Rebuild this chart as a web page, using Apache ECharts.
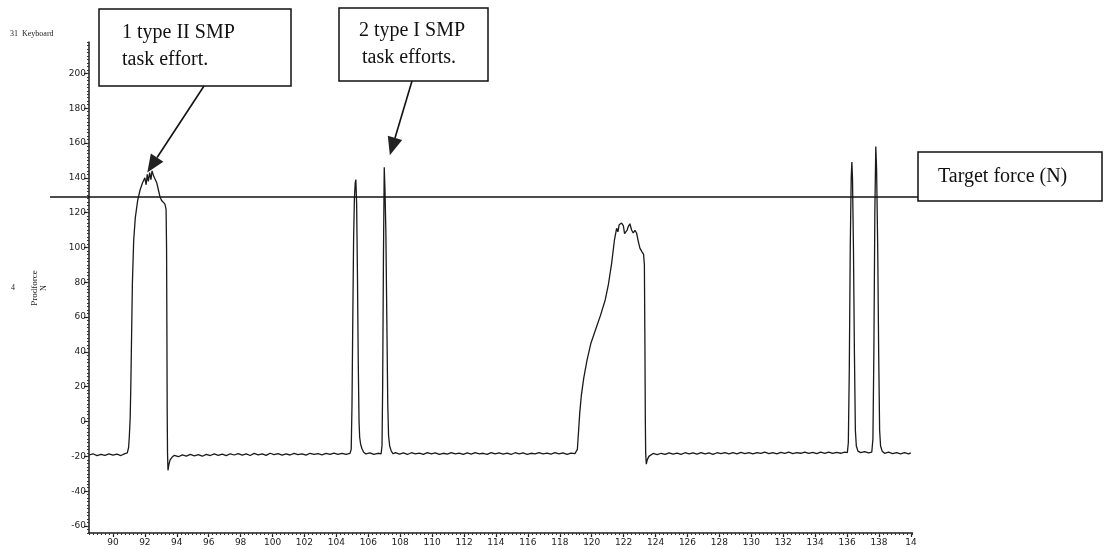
<!DOCTYPE html>
<html><head><meta charset="utf-8">
<script src="https://cdn.jsdelivr.net/npm/echarts@6/dist/echarts.min.js"></script>
<style>html,body{margin:0;padding:0;background:#fff}#c{width:1104px;height:549px}</style>
</head><body><div id="c"></div>
<script>
// time (s)
const timeS = [
88.50,88.75,89.00,89.25,89.50,89.75,90.00,90.25,90.50,90.75,90.90,
90.98,91.03,91.08,91.12,91.17,91.22,91.30,91.40,91.55,91.70,91.85,92.00,92.08,92.15,92.22,92.30,92.38,92.45,92.55,92.65,92.75,92.85,92.95,93.05,93.15,93.25,93.33,93.36,93.38,93.40,93.42,93.45,93.50,93.58,93.70,
93.85,94.10,94.35,94.60,94.85,95.10,95.35,95.60,95.85,96.10,96.35,96.60,96.85,97.10,97.35,97.60,97.85,98.10,98.35,98.60,98.85,99.10,99.35,99.60,99.85,100.10,100.35,100.60,100.85,101.10,101.35,101.60,101.85,102.10,102.35,102.60,102.85,103.10,103.35,103.60,103.85,104.10,104.35,104.60,104.85,
104.93,104.98,105.03,105.08,105.13,105.18,105.22,105.27,105.32,105.37,105.42,105.46,105.52,105.60,105.70,105.85,106.10,106.35,106.60,106.80,
106.86,106.90,106.95,107.00,107.04,107.10,107.16,107.22,107.27,107.34,107.44,107.56,
107.70,107.95,108.20,108.45,108.70,108.95,109.20,109.45,109.70,109.95,110.20,110.45,110.70,110.95,111.20,111.45,111.70,111.95,112.20,112.45,112.70,112.95,113.20,113.45,113.70,113.95,114.20,114.45,114.70,114.95,115.20,115.45,115.70,115.95,116.20,116.45,116.70,116.95,117.20,117.45,117.70,117.95,118.20,118.45,118.70,118.95,
119.10,119.18,119.25,119.35,119.50,119.70,119.95,120.25,120.55,120.85,121.05,121.25,121.42,121.56,121.64,121.72,121.80,121.87,121.98,122.06,122.14,122.22,122.29,122.39,122.50,122.60,122.71,122.81,122.92,123.02,123.15,123.25,123.30,123.33,123.36,123.38,123.42,123.48,123.58,123.70,
123.85,124.10,124.35,124.60,124.85,125.10,125.35,125.60,125.85,126.10,126.35,126.60,126.85,127.10,127.35,127.60,127.85,128.10,128.35,128.60,128.85,129.10,129.35,129.60,129.85,130.10,130.35,130.60,130.85,131.10,131.35,131.60,131.85,132.10,132.35,132.60,132.85,133.10,133.35,133.60,133.85,134.10,134.35,134.60,134.85,135.10,135.35,135.60,135.85,136.02,
136.08,136.14,136.20,136.26,136.30,136.34,136.40,136.46,136.52,136.58,136.68,136.85,137.10,137.35,137.55,
137.62,137.68,137.74,137.80,137.85,137.92,137.98,138.04,138.10,138.20,138.35,138.60,138.85,139.10,139.35,139.60,139.85,140.00
];
// Prodforce (N)
const forceN = [
-19.2,-18.5,-19.6,-18.8,-19.4,-18.6,-19.3,-18.7,-19.5,-18.4,-18.0,
-15,-8,2,20,50,80,104,117,127,133,137,140,136,142,138,143,139,144,141,141,137,133,129,127,126,125,122,100,55,5,-18,-28,-25,-22,-20.5,
-19.4,-20.2,-19.1,-19.8,-18.9,-19.7,-19.0,-19.9,-18.8,-19.5,-18.6,-19.4,-18.7,-19.6,-18.5,-19.2,-18.4,-19.3,-18.6,-19.5,-18.3,-19.1,-18.5,-19.4,-18.2,-19.0,-18.4,-19.3,-18.6,-19.2,-18.3,-19.0,-18.5,-19.3,-18.2,-18.9,-18.4,-19.1,-18.3,-18.9,-18.1,-18.8,-18.2,-18.9,-18.3,
-16,10,60,105,128,137,139,125,85,35,0,-9,-13,-15.5,-17.5,-18.6,-18.0,-18.9,-18.2,-18.6,
-14,20,95,146,135,110,60,10,-8,-14,-17,-18.5,
-17.8,-18.7,-18.0,-18.9,-17.9,-18.6,-18.1,-18.8,-17.8,-18.5,-18.0,-18.9,-18.2,-18.7,-17.9,-18.6,-18.1,-18.9,-18.0,-18.7,-17.9,-18.5,-18.2,-18.8,-17.8,-18.6,-18.0,-18.7,-18.1,-18.9,-17.9,-18.5,-18.0,-18.8,-18.2,-18.6,-17.8,-18.5,-18.1,-18.7,-17.9,-18.6,-18.0,-18.8,-18.1,-18.4,
-16,-5,5,15,25,35,45,53,61,70,79,91,104,111,109,113,112,114,112.5,108,107,110,112,113.6,110,108.3,109.8,108.3,103.4,99.6,97.5,96,90,50,0,-18,-24.5,-22,-20,-19,
-18.3,-19.0,-18.2,-18.9,-18.0,-18.7,-18.1,-18.8,-17.9,-18.6,-18.0,-18.7,-17.8,-18.5,-18.0,-18.8,-17.9,-18.4,-17.8,-18.6,-17.9,-18.5,-17.7,-18.4,-17.8,-18.6,-17.9,-18.3,-17.6,-18.4,-17.8,-18.5,-17.7,-18.3,-17.6,-18.4,-17.8,-18.2,-17.5,-18.3,-17.7,-18.4,-17.6,-18.2,-17.5,-18.3,-17.7,-18.2,-17.6,-17.8,
-12,30,100,140,149,140,100,40,-5,-14,-17,-17.8,-17.2,-18.0,-17.5,
-10,40,120,158,145,100,40,-5,-14,-17,-18.2,-17.6,-18.4,-17.8,-18.5,-17.9,-18.6,-18.0
];
const xTickValues = [90,92,94,96,98,100,102,104,106,108,110,112,114,116,118,120,122,124,126,128,130,132,134,136,138,140];
const xTickLabels = ['90','92','94','96','98','100','102','104','106','108','110','112','114','116','118','120','122','124','126','128','130','132','134','136','138','14'];
const yTickValues = [-60,-40,-20,0,20,40,60,80,100,120,140,160,180,200];
const targetForce = 129;

const chart = echarts.init(document.getElementById('c'));
const data = timeS.map((t, i) => [t, forceN[i]]);
const ink = '#1c1c1c';
const lblFont = { fontFamily: 'DejaVu Sans', fontSize: 9, color: '#222' };

chart.setOption({
  animation: false,
  backgroundColor: '#fff',
  grid: { left: 89, right: 191.5, top: 42, bottom: 16 },
  xAxis: [{
    type: 'value', min: 88.5, max: 140.1,
    axisLine: { show: true, onZero: false, lineStyle: { color: ink, width: 1.5 } },
    axisTick: { show: true, length: 4, customValues: xTickValues, lineStyle: { color: ink, width: 1.2 } },
    axisLabel: Object.assign({ customValues: xTickValues, margin: 5,
      formatter: v => { const i = xTickValues.indexOf(v); return i >= 0 ? xTickLabels[i] : ''; } }, lblFont),
    splitLine: { show: false }
  }, {
    type: 'value', min: 88.5, max: 140.1, interval: 0.25, position: 'bottom',
    axisLine: { show: false, onZero: false },
    axisTick: { show: true, length: 2, lineStyle: { color: '#333', width: 1 } },
    axisLabel: { show: false }, splitLine: { show: false }
  }],
  yAxis: [{
    type: 'value', min: -64, max: 218,
    axisLine: { show: true, onZero: false, lineStyle: { color: ink, width: 1.5 } },
    axisTick: { show: true, length: 5, customValues: yTickValues, lineStyle: { color: ink, width: 1.2 } },
    axisLabel: Object.assign({ customValues: yTickValues, margin: 3 }, lblFont),
    splitLine: { show: false }
  }, {
    type: 'value', min: -64, max: 218, interval: 2, position: 'left',
    axisLine: { show: false, onZero: false },
    axisTick: { show: true, length: 2, lineStyle: { color: '#333', width: 1 } },
    axisLabel: { show: false }, splitLine: { show: false }
  }],
  series: [{
    type: 'line', xAxisIndex: 0, yAxisIndex: 0, data: data,
    showSymbol: false, symbol: 'none',
    lineStyle: { color: '#1a1a1a', width: 1.3 }
  }]
});

function arrow(x0, y0, x1, y1, L, W) {
  const dx = x1 - x0, dy = y1 - y0, len = Math.hypot(dx, dy);
  const ux = dx / len, uy = dy / len, px = -uy, py = ux;
  const bx = x1 - ux * L, by = y1 - uy * L;
  return [
    { type: 'line', z: 100, shape: { x1: x0, y1: y0, x2: bx, y2: by }, style: { stroke: '#111', lineWidth: 1.6 } },
    { type: 'polygon', z: 100, shape: { points: [[x1, y1], [bx + px * W / 2, by + py * W / 2], [bx - px * W / 2, by - py * W / 2]] }, style: { fill: '#222' } }
  ];
}
const serif = '"Liberation Serif", "Times New Roman", serif';
const yT = chart.convertToPixel({ yAxisIndex: 0 }, targetForce);
const tip1 = chart.convertToPixel({ xAxisIndex: 0, yAxisIndex: 0 }, [92.15, 143]);
const tip2 = chart.convertToPixel({ xAxisIndex: 0, yAxisIndex: 0 }, [107.35, 153]);

const g = [
  { type: 'line', z: 90, shape: { x1: 50, y1: yT, x2: 918, y2: yT }, style: { stroke: '#111', lineWidth: 1.5 } },
  { type: 'rect', z: 95, shape: { x: 918, y: 152, width: 184, height: 49 }, style: { fill: '#fff', stroke: '#111', lineWidth: 1.5 } },
  { type: 'text', z: 96, x: 938, y: 177, style: { text: 'Target force (N)', font: '20px ' + serif, fill: '#111', align: 'left', verticalAlign: 'middle' } },
  { type: 'rect', z: 95, shape: { x: 99, y: 9, width: 192, height: 77 }, style: { fill: '#fff', stroke: '#111', lineWidth: 1.5 } },
  { type: 'text', z: 96, x: 122, y: 33, style: { text: '1 type II SMP', font: '20px ' + serif, fill: '#111', align: 'left', verticalAlign: 'middle' } },
  { type: 'text', z: 96, x: 122, y: 60, style: { text: 'task effort.', font: '20px ' + serif, fill: '#111', align: 'left', verticalAlign: 'middle' } },
  { type: 'rect', z: 95, shape: { x: 339, y: 8, width: 149, height: 73 }, style: { fill: '#fff', stroke: '#111', lineWidth: 1.5 } },
  { type: 'text', z: 96, x: 412, y: 31, style: { text: '2 type I SMP', font: '20px ' + serif, fill: '#111', align: 'center', verticalAlign: 'middle' } },
  { type: 'text', z: 96, x: 409, y: 58, style: { text: 'task efforts.', font: '20px ' + serif, fill: '#111', align: 'center', verticalAlign: 'middle' } },
  { type: 'text', z: 96, x: 10, y: 34, style: { text: '31  Keyboard', font: '8px ' + serif, fill: '#222', align: 'left', verticalAlign: 'middle' } },
  { type: 'text', z: 96, x: 13, y: 288, style: { text: '4', font: '8px ' + serif, fill: '#222', align: 'center', verticalAlign: 'middle' } },
  { type: 'text', z: 96, x: 35, y: 288, rotation: Math.PI / 2, style: { text: 'Prodforce', font: '9px ' + serif, fill: '#222', align: 'center', verticalAlign: 'middle' } },
  { type: 'text', z: 96, x: 44, y: 288, rotation: Math.PI / 2, style: { text: 'N', font: '8px ' + serif, fill: '#222', align: 'center', verticalAlign: 'middle' } }
].concat(arrow(204, 86, tip1[0], tip1[1], 18, 15), arrow(412, 81, tip2[0], tip2[1], 18, 15));

chart.setOption({ graphic: g });
</script>
</body></html>
